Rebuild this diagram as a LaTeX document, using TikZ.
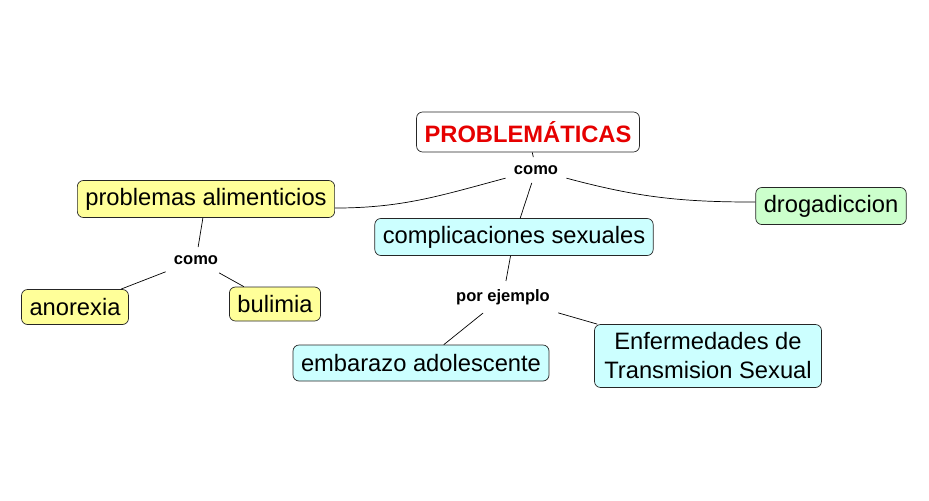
\documentclass[tikz,border=0pt]{standalone}
\usepackage{fontspec}
\setmainfont{Liberation Sans}
\usetikzlibrary{positioning}

\definecolor{conceptyellow}{RGB}{255,255,153}
\definecolor{conceptcyan}{RGB}{204,255,255}
\definecolor{conceptgreen}{RGB}{204,255,204}
\definecolor{titlered}{RGB}{230,0,0}

\begin{document}
\begin{tikzpicture}[
      x=0.02cm,
      y=-0.02cm,
      concept/.style={
        rectangle,
        draw=black!85,
        rounded corners=1.2mm,
        font=\fontsize{13.5}{16.5}\selectfont,
        minimum height=7.4mm,
        inner xsep=1.6mm,
        inner ysep=1mm
      },
      link/.style={
        font=\bfseries\fontsize{9.4}{10}\selectfont,
        inner sep=1.6mm
      }
    ]
      \useasboundingbox (0,0) rectangle (929,500);

      \node[concept, fill=white, minimum height=8mm,
        font=\bfseries\fontsize{13.5}{16.5}\selectfont\color{titlered}]
        (prob) at (528,132) {PROBLEMÁTICAS};

      \node[link] (como1) at (536,170) {como};

      \node[concept, fill=conceptyellow] (alim) at (206,199) {problemas alimenticios};
      \node[concept, fill=conceptcyan] (compl) at (514,237) {complicaciones sexuales};
      \node[concept, fill=conceptgreen] (drog) at (831,206) {drogadiccion};

      \node[link] (como2) at (196,260) {como};
      \node[concept, fill=conceptyellow, minimum height=7mm] (anor) at (75,307) {anorexia};
      \node[concept, fill=conceptyellow, minimum height=6.8mm] (buli) at (275,304) {bulimia};

      \node[link] (ejem) at (503,297) {por ejemplo};
      \node[concept, fill=conceptcyan, minimum height=7.2mm] (emba) at (421,363) {embarazo adolescente};
      \node[concept, fill=conceptcyan, align=center, minimum height=12.6mm,
        minimum width=45.4mm] (ets) at (708,356)
        {Enfermedades de\\Transmision Sexual};

      \draw (prob) -- (como1);
      \draw (como1) to[out=195, in=0] (alim.-4);
      \draw (como1) to[out=-15, in=180] (drog.177);
      \draw (como1) -- (compl);

      \draw (alim) -- (como2);
      \draw (como2) -- (anor);
      \draw (como2) -- (buli);

      \draw (compl) -- (ejem);
      \draw (ejem) -- (emba);
      \draw (ejem) -- (ets);
    \end{tikzpicture}
\end{document}
